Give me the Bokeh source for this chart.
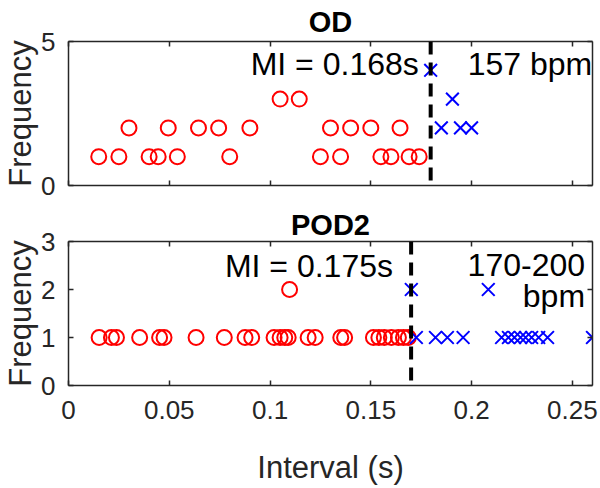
from bokeh.plotting import figure
from bokeh.layouts import column
from bokeh.models import Range1d, FixedTicker, Label, Span, LinearAxis
from bokeh.embed import file_html
from bokeh.resources import INLINE

# ---------------- data ----------------
x_ticks = [0, 0.05, 0.1, 0.15, 0.2, 0.25]
x_tick_labels = ["0", "0.05", "0.1", "0.15", "0.2", "0.25"]
x_limits = (0, 0.26)
x_label = "Interval (s)"
y_label = "Frequency"

od_title = "OD"
od_y_limits = (0, 5)
od_y_ticks = [0, 5]
od_red_x = [0.015, 0.025, 0.040, 0.0445, 0.054, 0.080, 0.125, 0.135, 0.155, 0.160, 0.169, 0.174,
            0.030, 0.0495, 0.0645, 0.0745, 0.090, 0.130, 0.140, 0.150, 0.1645,
            0.105, 0.1145]
od_red_y = [1, 1, 1, 1, 1, 1, 1, 1, 1, 1, 1, 1,
            2, 2, 2, 2, 2, 2, 2, 2, 2,
            3, 3]
od_blue_x = [0.1797, 0.1905, 0.185, 0.1945, 0.200]
od_blue_y = [4, 3, 2, 2, 2]
od_mi_line = 0.1797
od_mi_text = "MI = 0.168s"
od_rate_text = "157 bpm"

pod2_title = "POD2"
pod2_y_limits = (0, 3)
pod2_y_ticks = [0, 1, 2, 3]
pod2_red_x = [0.0152, 0.0213, 0.0238, 0.0353, 0.0452, 0.0474, 0.0633, 0.0773, 0.0876, 0.0909,
              0.1020, 0.1050, 0.1073, 0.1090, 0.1189, 0.1224, 0.1351, 0.1370, 0.1513, 0.1540,
              0.1567, 0.1602, 0.1637, 0.1662, 0.1686, 0.1097]
pod2_red_y = [1, 1, 1, 1, 1, 1, 1, 1, 1, 1,
              1, 1, 1, 1, 1, 1, 1, 1, 1, 1,
              1, 1, 1, 1, 1, 2]
pod2_blue_x = [0.1726, 0.1821, 0.1880, 0.1958, 0.2149, 0.2183, 0.2213, 0.2243, 0.2268, 0.2298,
               0.2333, 0.2377, 0.2600, 0.1701, 0.2083]
pod2_blue_y = [1, 1, 1, 1, 1, 1, 1, 1, 1, 1,
               1, 1, 1, 2, 2]
pod2_mi_line = 0.1700
pod2_mi_text = "MI = 0.175s"
pod2_rate_text = ["170-200", "bpm"]

# ---------------- styling ----------------
FONT = "Liberation Sans"
AX = "#262626"


def style_axis(ax, ticks, labels):
    ax.ticker = FixedTicker(ticks=ticks)
    ax.axis_line_color = AX
    ax.axis_line_width = 1.5
    ax.major_tick_line_color = AX
    ax.major_tick_line_width = 1.5
    ax.major_tick_in = 5
    ax.major_tick_out = 0
    ax.minor_tick_line_color = None
    ax.major_label_text_font = FONT
    ax.major_label_text_color = AX
    if labels:
        ax.major_label_text_font_size = "26px"
    else:
        ax.major_label_text_font_size = "0px"
        ax.major_label_standoff = 0
    ax.axis_label_text_font = FONT
    ax.axis_label_text_font_size = "31px"
    ax.axis_label_text_font_style = "normal"
    ax.axis_label_text_color = AX


def make_panel(height, b_top, b_bottom, y_limits, y_ticks, show_x, title, title_standoff):
    p = figure(width=600, height=height, x_range=Range1d(*x_limits), y_range=Range1d(*y_limits),
               output_backend="svg", toolbar_location=None, title=None,
               min_border_left=68, min_border_right=8,
               min_border_top=b_top, min_border_bottom=b_bottom)
    p.outline_line_color = None
    p.grid.visible = False
    p.background_fill_color = "white"
    p.border_fill_color = "white"

    xa = p.xaxis[0]
    style_axis(xa, x_ticks, show_x)
    if show_x:
        xa.major_label_overrides = dict(zip(x_ticks, x_tick_labels))
        xa.major_label_standoff = 15
        xa.axis_label = x_label
        xa.axis_label_standoff = 28
    ya = p.yaxis[0]
    style_axis(ya, y_ticks, True)
    ya.major_label_standoff = 13
    ya.axis_label = y_label
    ya.axis_label_standoff = 0

    # box top edge with inward ticks; its axis label carries the panel title
    top = LinearAxis()
    style_axis(top, x_ticks, False)
    top.axis_label = title
    top.axis_label_text_font_size = "29px"
    top.axis_label_text_font_style = "bold"
    top.axis_label_text_color = "black"
    top.axis_label_standoff = title_standoff
    p.add_layout(top, "above")
    right = LinearAxis()
    style_axis(right, y_ticks, False)
    p.add_layout(right, "right")
    return p


def add_label(p, x, y, text, align):
    p.add_layout(Label(x=x, y=y, text=text, text_align=align, text_baseline="middle",
                       text_font=FONT, text_font_size="32px", text_color="black"))


# ---------------- top panel ----------------
p1 = make_panel(200, 41, 15, od_y_limits, od_y_ticks, False, od_title, 4)
p1.scatter(od_red_x, od_red_y, marker="circle", size=15, fill_color=None,
           line_color="#ff0000", line_width=2)
p1.scatter(od_blue_x, od_blue_y, marker="x", size=18, line_color="#0000ff", line_width=2)
p1.add_layout(Span(location=od_mi_line, dimension="height", line_color="black",
                   line_width=4, line_dash="13 8"))
add_label(p1, 0.1738, 4.22, od_mi_text, "right")
add_label(p1, 0.1981, 4.22, od_rate_text, "left")

# ---------------- bottom panel ----------------
p2 = make_panel(288, 41, 103, pod2_y_limits, pod2_y_ticks, True, pod2_title, 1)
p2.scatter(pod2_red_x, pod2_red_y, marker="circle", size=15, fill_color=None,
           line_color="#ff0000", line_width=2)
p2.scatter(pod2_blue_x, pod2_blue_y, marker="x", size=18, line_color="#0000ff", line_width=2)
p2.add_layout(Span(location=pod2_mi_line, dimension="height", line_color="black",
                   line_width=4, line_dash="13 8"))
add_label(p2, 0.161, 2.50, pod2_mi_text, "right")
add_label(p2, 0.2563, 2.51, pod2_rate_text[0], "right")
add_label(p2, 0.2563, 1.86, pod2_rate_text[1], "right")

layout = column(p1, p2)
open("out.html", "w").write(file_html(layout, INLINE))
